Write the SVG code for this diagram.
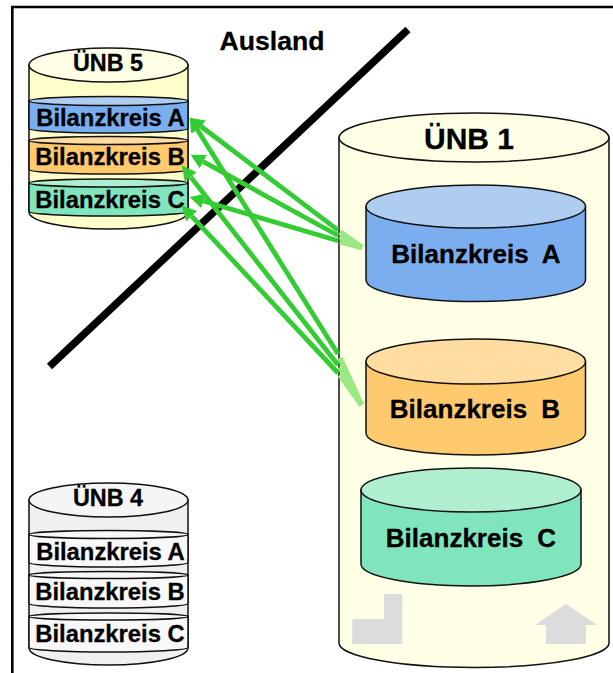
<svg xmlns="http://www.w3.org/2000/svg" width="613" height="673" viewBox="0 0 613 673">
<style>
text{font-family:"Liberation Sans",Arial,sans-serif;font-weight:bold;fill:#000;stroke:#000;stroke-width:.3;text-anchor:middle}
.s{stroke:#111;stroke-width:1.5}
.big{font-size:26px;word-spacing:7px}
.sm{font-size:23.8px}
.hd{font-size:23.4px}
.gr{fill:#dcdcdc;stroke:none}
.ln{fill:none;stroke-linecap:butt}
.dark{stroke:#33cc33;stroke-width:4.8}
.light{stroke:#99e884;stroke-width:5.5}
</style>
<defs>
<marker id="ah" markerUnits="userSpaceOnUse" markerWidth="16" markerHeight="16" refX="0" refY="7.500" orient="auto"><path d="M14.500,7.500 L0,0 L0,15 Z" fill="#33cc33"/></marker>
</defs>
<rect width="613" height="673" fill="#fff"/>
<path id="frame" d="M12.3,673V7H613" fill="none" stroke="#000" stroke-width="2.6"/>
<line id="border" x1="49.5" y1="366.500" x2="408" y2="29.500" stroke="#000" stroke-width="7.500"/>
<text x="272" y="50" style="font-size:26.6px">Ausland</text>
<g id="unb5">
<path class="s" fill="#ffffcc" d="M29,65V212A79.5,17 0 0 0 188,212V65Z"/>
<ellipse class="s" cx="108.5" cy="65" rx="79.5" ry="17" fill="#ffffe6"/>
<text class="hd" x="108" y="71">ÜNB 5</text>
<g id="unb5a"><path class="s" fill="#7aaeee" d="M29,101V128.5A79.5,4.5 0 0 0 188,128.5V101Z"/><ellipse class="s" cx="108.5" cy="101" rx="79.5" ry="4.5" fill="#aecdf0"/><text class="sm" x="110.5" y="126">Bilanzkreis A</text></g>
<g id="unb5b"><path class="s" fill="#ffc96e" d="M29,140.5V169.5A79.5,4.5 0 0 0 188,169.5V140.5Z"/><ellipse class="s" cx="108.5" cy="140.5" rx="79.5" ry="4" fill="#ffdca0"/><text class="sm" x="110" y="165">Bilanzkreis B</text></g>
<g id="unb5c"><path class="s" fill="#80e4bd" d="M29,183V211.5A79.5,4.5 0 0 0 188,211.5V183Z"/><ellipse class="s" cx="108.5" cy="183" rx="79.5" ry="4" fill="#b0eed0"/><text class="sm" x="110" y="208">Bilanzkreis C</text></g>
</g>
<g id="unb4">
<path class="s" fill="#f0f0f0" d="M29,500V648A79.5,17 0 0 0 188,648V500Z"/>
<ellipse class="s" cx="108.5" cy="500" rx="79.5" ry="17" fill="#f5f5f5"/>
<text class="hd" x="108" y="506">ÜNB 4</text>
<g id="unb4a"><path class="s" fill="#f8f8f8" d="M29,534.5V562.5A79.5,4.5 0 0 0 188,562.5V534.5Z"/><ellipse class="s" cx="108.5" cy="534.5" rx="79.5" ry="4" fill="#f8f8f8"/><text class="sm" x="110.5" y="560">Bilanzkreis A</text></g>
<g id="unb4b"><path class="s" fill="#f8f8f8" d="M29,575V603.5A79.5,4.5 0 0 0 188,603.5V575Z"/><ellipse class="s" cx="108.5" cy="575" rx="79.5" ry="3.5" fill="#f8f8f8"/><text class="sm" x="110" y="600">Bilanzkreis B</text></g>
<g id="unb4c"><path class="s" fill="#f8f8f8" d="M29,616.5V647.5A79.5,4.5 0 0 0 188,647.5V616.5Z"/><ellipse class="s" cx="108.5" cy="616.5" rx="79.5" ry="3.5" fill="#f8f8f8"/><text class="sm" x="110" y="642">Bilanzkreis C</text></g>
</g>
<g id="unb1">
<path class="s" fill="#ffffe6" d="M339,137.5V643A135,24.5 0 0 0 609,643V137.5Z"/>
<ellipse class="s" cx="474" cy="137.5" rx="135" ry="24.5" fill="#ffffe6"/>
<text x="469" y="149" style="font-size:30px">ÜNB 1</text>
<polygon class="gr" points="352.3,619 384,619 384,594 402.3,594 402.3,644 352.3,644"/>
<polygon class="gr" points="566,604 597.3,625 586,625 586,644 546,644 546,625 535,625"/>
<g id="unb1a"><path class="s" fill="#7aaeee" d="M366,206.5V280A109.75,21.5 0 0 0 585.5,280V206.5Z"/><ellipse class="s" cx="475.75" cy="206.5" rx="109.75" ry="21.5" fill="#aecdf0"/><text class="big" x="476" y="263">Bilanzkreis A</text></g>
<g id="unb1b"><path class="s" fill="#ffc96e" d="M366,361.5V433A109.75,22 0 0 0 585.5,433V361.5Z"/><ellipse class="s" cx="475.75" cy="361.5" rx="109.75" ry="22.5" fill="#ffdca0"/><text class="big" x="475" y="418">Bilanzkreis B</text></g>
<g id="unb1c"><path class="s" fill="#80e4bd" d="M361,490V564A110,22 0 0 0 581,564V490Z"/><ellipse class="s" cx="471" cy="490" rx="110" ry="22" fill="#b0eed0"/><text class="big" x="471" y="547">Bilanzkreis C</text></g>
</g>
<g id="connectors">
<g class="ln light">
<line x1="362" y1="247.500" x2="340" y2="232"/><line x1="362" y1="247.500" x2="340" y2="236.500"/><line x1="362" y1="247.500" x2="340" y2="241.500"/>
<line x1="361.500" y1="405" x2="340" y2="358"/><line x1="361.500" y1="405" x2="340" y2="367"/><line x1="361.500" y1="405" x2="340" y2="375"/>
</g>
<g class="ln dark">
<line x1="338" y1="230.200" x2="201.200" y2="126.500" marker-end="url(#ah)"/>
<line x1="338" y1="235.500" x2="203.300" y2="161.700" marker-end="url(#ah)"/>
<line x1="338" y1="240.700" x2="203.400" y2="201" marker-end="url(#ah)"/>
<line x1="338" y1="354" x2="197.400" y2="129.800" marker-end="url(#ah)"/>
<line x1="338" y1="365" x2="190.700" y2="177" marker-end="url(#ah)"/>
<line x1="338" y1="373" x2="191.600" y2="216.200" marker-end="url(#ah)"/>
</g>
</g>
</svg>
